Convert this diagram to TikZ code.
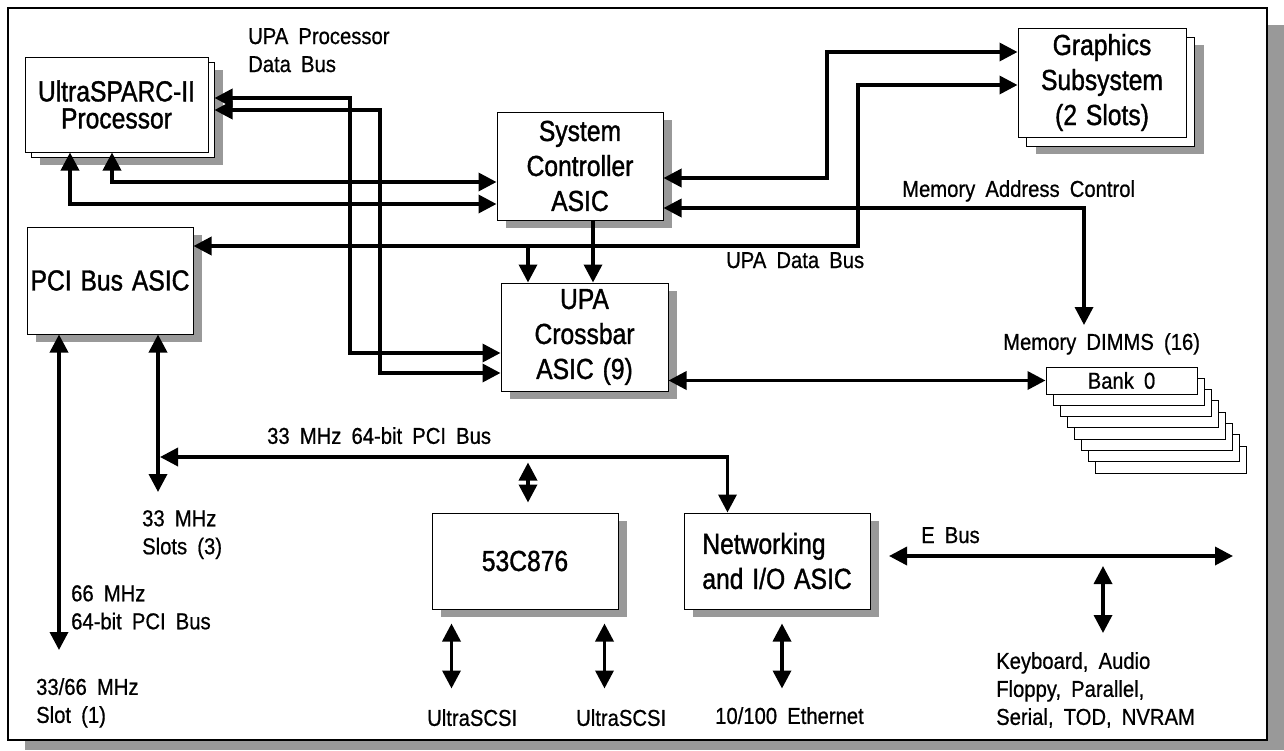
\documentclass[tikz,border=0pt]{standalone}
\usepackage{fontspec}
\setmainfont{Liberation Sans}[FakeStretch=0.85, WordSpace=1.3, FakeBold=1.2]
\newfontfamily\lblfamily{Liberation Sans}[FakeStretch=0.88, WordSpace=1.8, FakeBold=0.7]
\usetikzlibrary{arrows.meta,shadows}
\definecolor{shadowgray}{gray}{0.6}
\newcommand\boxfont{\fontsize{29}{35}\selectfont}
\newcommand\lblfont{\lblfamily\fontsize{23}{28}\selectfont}

\begin{document}
\begin{tikzpicture}[
  x=1pt, y=-1pt,
  >={Triangle[length=18pt,width=18pt]},
  box/.style={draw, line width=1pt, fill=white, align=center, font=\boxfont, inner sep=0pt},
  dropshade/.style 2 args={drop shadow={shadow xshift=#1, shadow yshift=#2, fill=shadowgray, opacity=1}},
  sheet/.style 2 args={general shadow={shadow xshift=#1, shadow yshift=#2, fill=white, draw=black, line width=1pt}},
  lbl/.style={font=\lblfont, inner sep=0pt, align=left, anchor=north west},
  bank/.style={draw, line width=1pt, fill=white, minimum width=151pt, minimum height=27pt, inner sep=0pt, font=\lblfont},
  bus/.style={line width=3.5pt},
]
\useasboundingbox (0,0) rectangle (1284,750);
% frame with its shadow
\fill[shadowgray] (25,25) rectangle (1284,750);
\draw[line width=1.2pt, fill=white] (8,8) rectangle (1267,740);

% boxes
\node[box, dropshade={15pt}{-13pt}, sheet={6pt}{-5pt}, minimum width=183pt, minimum height=95pt,
  font=\fontsize{29}{27}\selectfont] (proc) at (116.5,104.5) {UltraSPARC-II\\Processor};
\node[box, dropshade={18pt}{-17pt}, sheet={8pt}{-9pt}, minimum width=168pt, minimum height=109pt]
  (gfx) at (1102,82.5) {Graphics\\Subsystem\\(2 Slots)};
\node[box, dropshade={9pt}{-8pt}, minimum width=166pt, minimum height=108pt] (sc) at (580,166) {System\\Controller\\ASIC};
\node[box, dropshade={9pt}{-8pt}, minimum width=167pt, minimum height=108pt] (xbar) at (584.5,337) {UPA\\Crossbar\\ASIC (9)};
\node[box, dropshade={9pt}{-8pt}, minimum width=166pt, minimum height=107pt] (pci) at (110,280.5) {PCI Bus ASIC};
\node[box, dropshade={9pt}{-8pt}, minimum width=186pt, minimum height=96pt] (scsi) at (525,561) {53C876};
\node[box, dropshade={9pt}{-8pt}, minimum width=186pt, minimum height=96pt, align=left] (nio) at (777,561) {Networking\\and I/O ASIC};

% memory banks, back to front
\foreach \k in {7,6,...,1}
  \node[bank] (bank\k) at ({1121.5+7*\k},{380.5+11.33*\k}) {};
\node[bank] (bank0) at (1121.5,380.5) {Bank 0};

% labels
\node[lbl] (pdbus) at (248,28) {UPA Processor\\Data Bus};
\node[lbl] (memaddr) at (902,180) {Memory Address Control};
\node[lbl] (upadata) at (726,252) {UPA Data Bus};
\node[lbl] (dimms) at (1003,333) {Memory DIMMS (16)};
\node[lbl] (pcibuslbl) at (267,427) {33 MHz 64-bit PCI Bus};
\node[lbl] (slots3) at (142,510) {33 MHz\\Slots (3)};
\node[lbl] (pci66) at (71,585) {66 MHz\\64-bit PCI Bus};
\node[lbl] (slot1) at (36,678) {33/66 MHz\\Slot (1)};
\node[lbl] (usa) at (427,709) {UltraSCSI};
\node[lbl] (usb) at (576,709) {UltraSCSI};
\node[lbl] (eth) at (715,707) {10/100 Ethernet};
\node[lbl] (ebus) at (921,527) {E Bus};
\node[lbl] (kbd) at (996,652) {Keyboard, Audio\\Floppy, Parallel,\\Serial, TOD, NVRAM};

% processor buses
\coordinate (busa) at (350,353);
\coordinate (busb) at (380,373);
\draw[bus,<->] ([xshift=6pt,yshift=6.5pt]proc.east) -| (busa) -- (busa -| xbar.west);
\draw[bus,<->] ([xshift=6pt,yshift=-5.5pt]proc.east) -| (busb) -- (busb -| xbar.west);
\draw[bus,<->] ([xshift=-4.5pt]proc.south) |- ([yshift=-16pt]sc.west);
\draw[bus,<->] ([xshift=-46.5pt]proc.south) |- ([yshift=-38pt]sc.west);

% graphics, UPA data bus, memory
\coordinate (gfxa) at (827,52);
\coordinate (gfxb) at (858,85);
\draw[bus,<->] ([yshift=-12pt]sc.east) -| (gfxa) -- ([yshift=30.5pt]gfx.west);
\draw[bus,<->] ([yshift=34.5pt]pci.east) -| (gfxb) -- ([yshift=-2.5pt]gfx.west);
\coordinate (xbarbr) at (528,246);
\draw[bus,->] (xbarbr) -- (xbarbr |- xbar.north);
\coordinate (memtip) at (1084,325);
\draw[bus,<->] ([yshift=-42pt]sc.east) -| (memtip);
\draw[bus,->] ([xshift=13pt]sc.south) -- ([xshift=8.5pt]xbar.north);
\draw[bus,<->] (xbar.east |- bank0.west) -- (bank0.west);

% PCI side
\coordinate (slotone) at (59,650);
\coordinate (slotthree) at (158,492);
\coordinate (pcibus) at (160,457);
\draw[bus,<->] (pci.south -| slotone) -- (slotone);
\draw[bus,<->] (pci.south -| slotthree) -- (slotthree);
\draw[bus,<->] (pcibus) -| ([xshift=44pt]nio.north west);
\draw[bus,<->] ([xshift=3pt,yshift=10pt]scsi.north) -- ([xshift=3pt,yshift=50pt]scsi.north);

% SCSI, Ethernet, E bus
\draw[bus,<->] ([xshift=20pt,yshift=-14pt]scsi.south west) -- ([xshift=20pt,yshift=-79pt]scsi.south west);
\draw[bus,<->] ([xshift=-14pt,yshift=-14pt]scsi.south east) -- ([xshift=-14pt,yshift=-79pt]scsi.south east);
\draw[bus,<->] ([xshift=5pt,yshift=-14pt]nio.south) -- ([xshift=5pt,yshift=-79pt]nio.south);
\coordinate (ebusl) at (889,556);
\coordinate (ebusr) at (1233,556);
\draw[bus,<->] (ebusl) -- (ebusr);
\coordinate (iotop) at (1103,566);
\coordinate (iobot) at (1103,633);
\draw[bus,<->] (iotop) -- (iobot);
\end{tikzpicture}
\end{document}
